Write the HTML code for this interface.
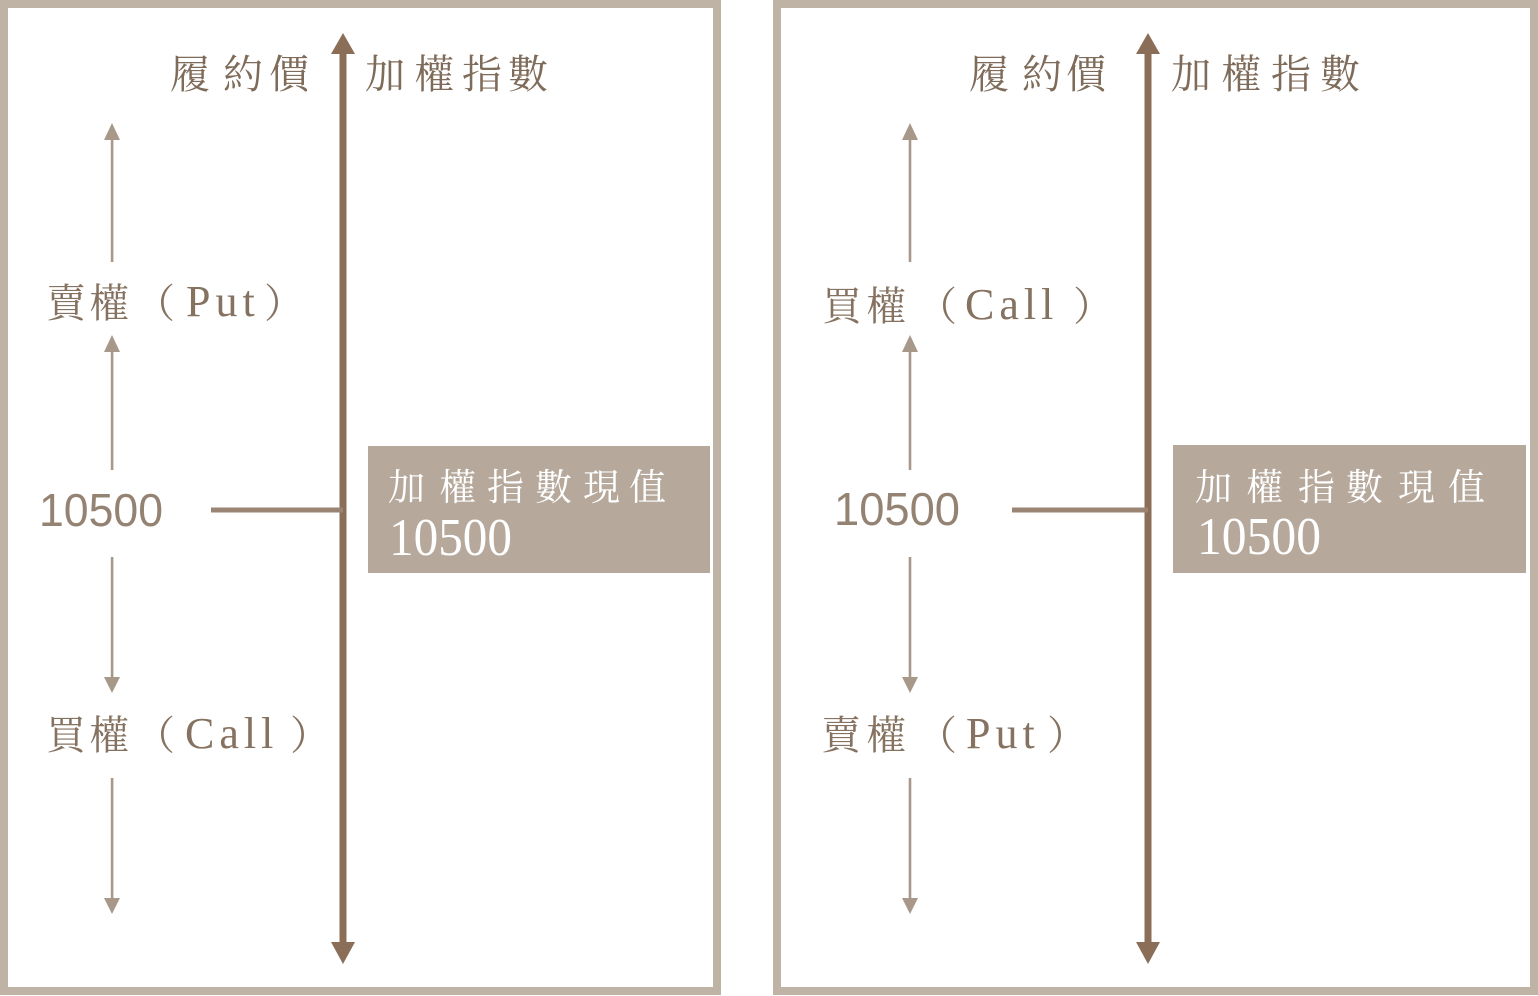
<!DOCTYPE html>
<html>
<head>
<meta charset="utf-8">
<style>
  html, body { margin: 0; padding: 0; background: #ffffff; }
  body { width: 1538px; height: 996px; overflow: hidden; }
  svg { display: block; }
  .cjk { font-family: "Liberation Serif", "Noto Serif CJK SC", "Noto Serif CJK TC", serif; }
  .lat { font-family: "Liberation Serif", serif; }
  .sans { font-family: "Liberation Sans", sans-serif; }
</style>
</head>
<body>
<svg width="1538" height="996" viewBox="0 0 1538 996" xmlns="http://www.w3.org/2000/svg">
  <!-- panel borders -->
  <rect x="4" y="4" width="713" height="987" fill="none" stroke="#bfb3a6" stroke-width="8"/>
  <rect x="777" y="4" width="757" height="987" fill="none" stroke="#bfb3a6" stroke-width="8"/>

  <!-- ============ LEFT PANEL ============ -->
  <rect x="339.5" y="50" width="7" height="895" fill="#8a6e57"/>
  <polygon points="343,33 331,54 355,54" fill="#8a6e57"/>
  <polygon points="343,964 331,942 355,942" fill="#8a6e57"/>
  <rect x="211" y="507.5" width="132" height="5" fill="#9a8473"/>
  <rect x="368" y="446" width="342" height="127" fill="#b6a99c"/>

  <g fill="#a8988a" stroke="none">
    <rect x="110.8" y="137" width="2.6" height="125"/>
    <polygon points="112,123 104,140 120,140"/>
    <rect x="110.8" y="349" width="2.6" height="121"/>
    <polygon points="112,335 104,352 120,352"/>
    <rect x="110.8" y="557" width="2.6" height="124"/>
    <polygon points="112,693 104,677 120,677"/>
    <rect x="110.8" y="778" width="2.6" height="124"/>
    <polygon points="112,914 104,898 120,898"/>
  </g>

  <g class="cjk" font-size="40" fill="#7f6b59">
    <text y="88"><tspan x="170">履</tspan><tspan x="223">約</tspan><tspan x="269">價</tspan></text>
    <text y="88"><tspan x="365">加</tspan><tspan x="414">權</tspan><tspan x="462">指</tspan><tspan x="508">數</tspan></text>
  </g>

  <g fill="#857260">
    <text class="cjk" font-size="40" y="317"><tspan x="46">賣</tspan><tspan x="89">權</tspan><tspan x="135">（</tspan></text>
    <text class="lat" font-size="44" y="316" x="186" letter-spacing="5">Put</text>
    <text class="cjk" font-size="40" y="317" x="264">）</text>
  </g>
  <g fill="#857260">
    <text class="cjk" font-size="40" y="749"><tspan x="46">買</tspan><tspan x="89">權</tspan><tspan x="135">（</tspan></text>
    <text class="lat" font-size="44" y="748" x="185" letter-spacing="5">Call</text>
    <text class="cjk" font-size="40" y="749" x="290">）</text>
  </g>
  <text class="sans" font-size="46" fill="#948373" x="39" y="526" textLength="124" lengthAdjust="spacingAndGlyphs">10500</text>

  <g fill="#ffffff">
    <text class="cjk" font-size="37" y="500"><tspan x="388">加</tspan><tspan x="439">權</tspan><tspan x="487">指</tspan><tspan x="535">數</tspan><tspan x="583">現</tspan><tspan x="629">值</tspan></text>
    <text class="lat" font-size="53" x="389" y="555" textLength="123" lengthAdjust="spacingAndGlyphs">10500</text>
  </g>

  <!-- ============ RIGHT PANEL ============ -->
  <rect x="1144.5" y="50" width="7" height="895" fill="#8a6e57"/>
  <polygon points="1148,33 1136,54 1160,54" fill="#8a6e57"/>
  <polygon points="1148,964 1136,942 1160,942" fill="#8a6e57"/>
  <rect x="1012" y="507.5" width="136" height="5" fill="#9a8473"/>
  <rect x="1173" y="445" width="353" height="128" fill="#b6a99c"/>

  <g fill="#a8988a" stroke="none">
    <rect x="908.7" y="137" width="2.6" height="125"/>
    <polygon points="910,123 902,140 918,140"/>
    <rect x="908.7" y="349" width="2.6" height="121"/>
    <polygon points="910,335 902,352 918,352"/>
    <rect x="908.7" y="557" width="2.6" height="124"/>
    <polygon points="910,693 902,677 918,677"/>
    <rect x="908.7" y="778" width="2.6" height="124"/>
    <polygon points="910,914 902,898 918,898"/>
  </g>

  <g class="cjk" font-size="40" fill="#7f6b59">
    <text y="88"><tspan x="969">履</tspan><tspan x="1022">約</tspan><tspan x="1066">價</tspan></text>
    <text y="88"><tspan x="1171">加</tspan><tspan x="1221">權</tspan><tspan x="1271">指</tspan><tspan x="1320">數</tspan></text>
  </g>

  <g fill="#857260">
    <text class="cjk" font-size="40" y="320"><tspan x="822">買</tspan><tspan x="866">權</tspan><tspan x="917">（</tspan></text>
    <text class="lat" font-size="44" y="319" x="965" letter-spacing="5">Call</text>
    <text class="cjk" font-size="40" y="320" x="1073">）</text>
  </g>
  <g fill="#857260">
    <text class="cjk" font-size="40" y="749"><tspan x="821">賣</tspan><tspan x="866">權</tspan><tspan x="917">（</tspan></text>
    <text class="lat" font-size="44" y="748" x="966" letter-spacing="5">Put</text>
    <text class="cjk" font-size="40" y="749" x="1047">）</text>
  </g>
  <text class="sans" font-size="46" fill="#948373" x="834" y="525" textLength="126" lengthAdjust="spacingAndGlyphs">10500</text>

  <g fill="#ffffff">
    <text class="cjk" font-size="37" y="500"><tspan x="1195">加</tspan><tspan x="1246">權</tspan><tspan x="1298">指</tspan><tspan x="1346">數</tspan><tspan x="1398">現</tspan><tspan x="1448">值</tspan></text>
    <text class="lat" font-size="53" x="1197" y="554" textLength="124" lengthAdjust="spacingAndGlyphs">10500</text>
  </g>
</svg>
</body>
</html>
